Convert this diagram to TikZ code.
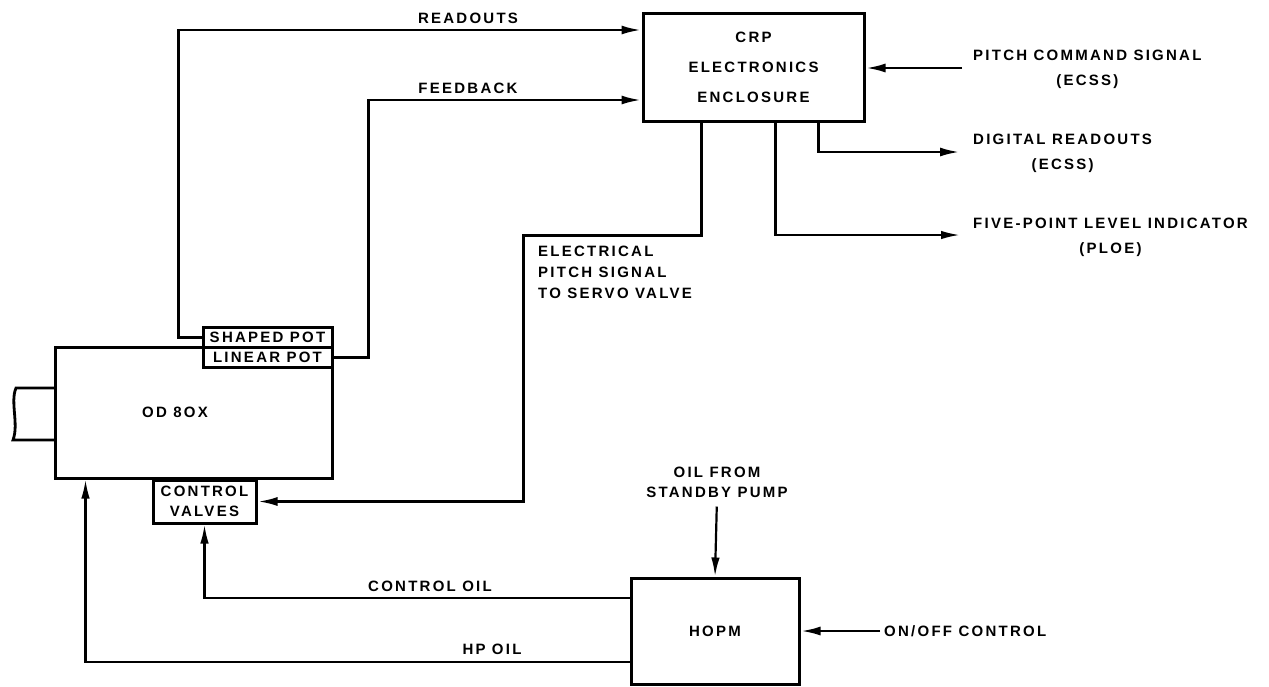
\documentclass[tikz,border=0pt]{standalone}
\usepackage{fontspec}
\setmainfont{Liberation Sans}[LetterSpace=15]
\usetikzlibrary{arrows.meta}
\newcommand\dgfont{\fontsize{15}{20}\selectfont\bfseries}
\begin{document}
\begin{tikzpicture}[x=1pt,y=-1pt,
  box/.style={draw,line width=3pt,inner sep=0pt,font=\dgfont,align=center},
  lbl/.style={inner sep=0pt,font=\dgfont},
  rlbl/.style={inner sep=0pt,anchor=west,align=center,font=\fontsize{15}{25}\selectfont\bfseries},
  conn/.style={line width=2.8pt,line join=miter},
  connthin/.style={line width=2.2pt,line join=miter},
  arr/.style={conn,-{Latex[length=20pt,width=9pt]}},
  arrthin/.style={connthin,-{Latex[length=19pt,width=8.5pt]}},
]
\fill[white] (0,0) rectangle (1269,686);
\useasboundingbox (0,0) rectangle (1269,686);

% boxes
\node[box,minimum width=277pt,minimum height=131pt] (od) at (193.5,412.5) {};
\node[lbl] (odlabel) at (175,412) {OD 8OX};
\node[box,minimum width=129pt,minimum height=20pt] (spot) at (267.5,337.5) {SHAPED POT};
\node[box,minimum width=129pt,minimum height=20pt] (lpot) at (267.5,357.5) {LINEAR POT};
\node[box,minimum width=103pt,minimum height=43pt] (cv) at (204.5,501.5) {CONTROL\\VALVES};
\node[box,minimum width=221pt,minimum height=108pt,font=\fontsize{15}{30}\selectfont\bfseries] (crp) at (753.5,67) {CRP\\ELECTRONICS\\ENCLOSURE};
\node[box,minimum width=168pt,minimum height=106pt] (hopm) at (715,631) {HOPM};

% shaft stub on OD box
\draw[conn] (55,388) -- (16,388) .. controls (10,402) and (19,424) .. (13,440) -- (55,440);

% labels
\node[lbl] (readouts) at (468,18) {READOUTS};
\node[lbl] (feedback) at (468,88) {FEEDBACK};
\node[lbl,align=left,anchor=north west,font=\fontsize{15}{21}\selectfont\bfseries] (elec) at (538,246) {ELECTRICAL\\PITCH SIGNAL\\TO SERVO VALVE};
\node[rlbl] (pitch) at (973,69) {PITCH COMMAND SIGNAL\\(ECSS)};
\node[rlbl] (digital) at (973,153) {DIGITAL READOUTS\\(ECSS)};
\node[rlbl] (five) at (973,237) {FIVE-POINT LEVEL INDICATOR\\(PLOE)};
\node[lbl,align=center] (standby) at (717,482) {OIL FROM\\STANDBY PUMP};
\node[lbl,anchor=west] (onoff) at (884,631) {ON/OFF CONTROL};
\node[lbl] (ctloil) at (430,586) {CONTROL OIL};
\node[lbl] (hpoil) at (492,649) {HP OIL};

\coordinate (pitchin) at ([yshift=1pt]pitch.west);
\coordinate (digin) at ([yshift=1pt]digital.west);
\coordinate (fivein) at ([yshift=2pt]five.west);

% connectors
\draw[arr] (spot.west) -- ++(-23,0) |- ([yshift=37pt]crp.west);
\draw[arr] (lpot.east) -- ++(35,0) |- ([yshift=-33pt]crp.west);
\draw[arr,shorten <=11pt] (pitchin) -- (pitchin -| crp.east);
\draw[arr,shorten >=13pt] ([xshift=65pt]crp.south) |- (digin);
\draw[arrthin,shorten >=13pt] ([xshift=22pt]crp.south) |- (fivein);
\draw[arr] ([xshift=-52pt]crp.south) -- ++(0,113) -- ++(-178,0) |- (cv.east);
\draw[arrthin] ([yshift=33pt]hopm.west) -| (cv.south);
\draw[arrthin] ([yshift=-31pt]hopm.west) -| ([xshift=-108pt]od.south);
\draw[arrthin,shorten <=9pt] (standby.south) -- (hopm.north);
\draw[arr,shorten <=4pt] (onoff.west) -- (hopm.east);
\end{tikzpicture}
\end{document}
